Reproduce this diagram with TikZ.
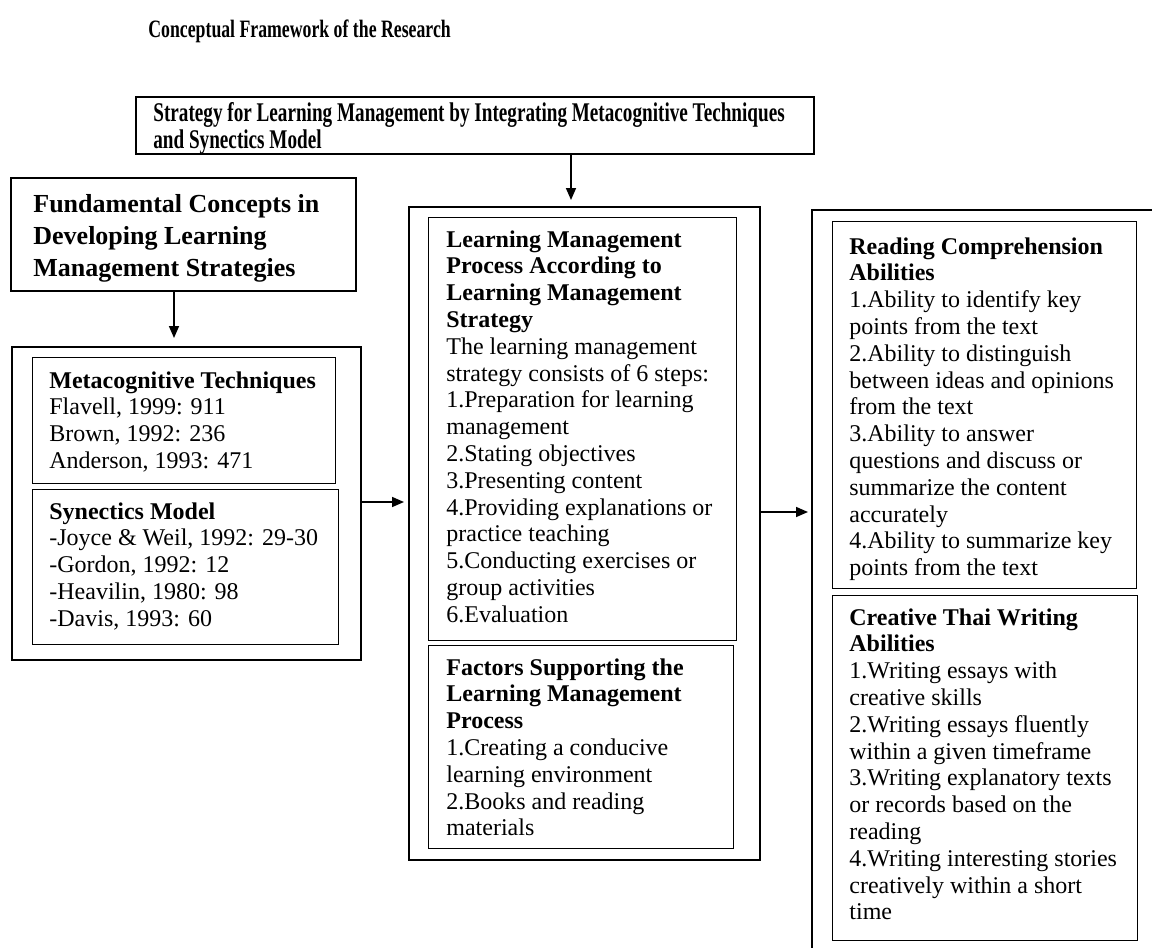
\documentclass[tikz,border=0pt]{standalone}
\usepackage{fontspec}
\setmainfont{Liberation Serif}
\newfontfamily\condfont[FakeStretch=0.71]{Liberation Serif}
\usetikzlibrary{arrows.meta}
\begin{document}
\begin{tikzpicture}[x=0.5pt,y=-0.5pt,
  outerbox/.style={draw, line width=1pt, inner sep=0pt, anchor=north west},
  innerbox/.style={draw, line width=0.6pt, inner sep=0pt, anchor=north west},
  txt/.style={anchor=north west, inner sep=0pt, align=left, font=\fontsize{12}{13.4}\selectfont},
  arr/.style={line width=0.8pt, -{Triangle[length=6pt,width=5pt]}}]
\path[use as bounding box, clip] (0,0) rectangle (1152,948);

% title
\node[anchor=base west, inner sep=0pt, font=\condfont\bfseries\fontsize{12.5}{13.5}\selectfont] (title) at (148,37) {Conceptual Framework of the Research};

% top box
\node[outerbox, minimum width=339pt, minimum height=28.5pt] (top) at (135,96) {};
\node[txt, font=\condfont\bfseries\fontsize{13.5}{13.5}\selectfont] (toptxt) at (153,102) {\strut Strategy for Learning Management by Integrating Metacognitive Techniques\\and Synectics Model};

% left column
\node[outerbox, minimum width=172.5pt, minimum height=56.5pt] (head) at (10,177) {};
\node[txt, font=\bfseries\fontsize{13}{16}\selectfont] (headtxt) at (33,190) {\strut Fundamental Concepts in\\Developing Learning\\Management Strategies};

\node[outerbox, minimum width=174.5pt, minimum height=156.5pt] (leftouter) at (11,346) {};
\node[innerbox, minimum width=151.5pt, minimum height=63pt] (meta) at (32,357) {};
\node[txt] (metatxt) at (49,369) {\strut\textbf{Metacognitive Techniques}\\Flavell, 1999: 911\\Brown, 1992: 236\\Anderson, 1993: 471};
\node[innerbox, minimum width=153pt, minimum height=77.5pt] (syn) at (32,489) {};
\node[txt] (syntxt) at (49,500) {\strut\textbf{Synectics Model}\\-Joyce \& Weil, 1992: 29-30\\-Gordon, 1992: 12\\-Heavilin, 1980: 98\\-Davis, 1993: 60};

% middle column
\node[outerbox, minimum width=175.5pt, minimum height=326.5pt] (midouter) at (408,206) {};
\node[innerbox, minimum width=154pt, minimum height=211.5pt] (proc) at (428,217) {};
\node[txt] (proctxt) at (446,228) {\strut\textbf{Learning Management}\\\textbf{Process According to}\\\textbf{Learning Management}\\\textbf{Strategy}\\The learning management\\strategy consists of 6 steps:\\1.Preparation for learning\\management\\2.Stating objectives\\3.Presenting content\\4.Providing explanations or\\practice teaching\\5.Conducting exercises or\\group activities\\6.Evaluation};
\node[innerbox, minimum width=152.5pt, minimum height=101.5pt] (fact) at (428,645) {};
\node[txt] (facttxt) at (446,656) {\strut\textbf{Factors Supporting the}\\\textbf{Learning Management}\\\textbf{Process}\\1.Creating a conducive\\learning environment\\2.Books and reading\\materials};

% right column
\node[outerbox, minimum width=200pt, minimum height=400pt] (rightouter) at (811,209) {};
\node[innerbox, minimum width=152pt, minimum height=183.5pt] (read) at (832,221) {};
\node[txt] (readtxt) at (849,235) {\strut\textbf{Reading Comprehension}\\\textbf{Abilities}\\1.Ability to identify key\\points from the text\\2.Ability to distinguish\\between ideas and opinions\\from the text\\3.Ability to answer\\questions and discuss or\\summarize the content\\accurately\\4.Ability to summarize key\\points from the text};
\node[innerbox, minimum width=152.5pt, minimum height=172.5pt] (creat) at (832,595) {};
\node[txt] (creattxt) at (849,606) {\strut\textbf{Creative Thai Writing}\\\textbf{Abilities}\\1.Writing essays with\\creative skills\\2.Writing essays fluently\\within a given timeframe\\3.Writing explanatory texts\\or records based on the\\reading\\4.Writing interesting stories\\creatively within a short\\time};

% connectors
\coordinate (a1) at (571,200);
\draw[arr] (top.south -| a1) -- (a1);
\coordinate (a2) at (174,338);
\draw[arr] (head.south -| a2) -- (a2);
\coordinate (a3) at (404,502);
\draw[arr] (leftouter.east |- a3) -- (a3);
\coordinate (a4) at (808,512);
\draw[arr] (midouter.east |- a4) -- (a4);
\end{tikzpicture}
\end{document}
